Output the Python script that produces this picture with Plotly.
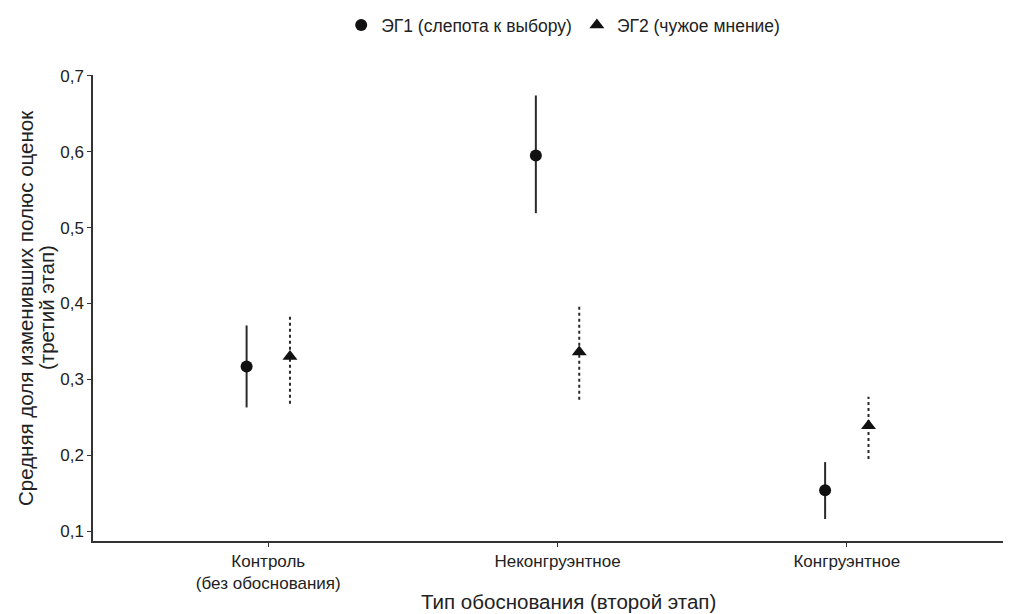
import plotly.graph_objects as go

categories = ["Контроль<br>(без обоснования)", "Неконгруэнтное", "Конгруэнтное"]
series_names = ["ЭГ1 (слепота к выбору)", "ЭГ2 (чужое мнение)"]
eg1_mean = [0.317, 0.595, 0.154]
eg1_low = [0.263, 0.519, 0.116]
eg1_high = [0.371, 0.674, 0.191]
eg2_mean = [0.330, 0.336, 0.239]
eg2_low = [0.268, 0.273, 0.195]
eg2_high = [0.384, 0.399, 0.277]
y_ticks = [0.1, 0.2, 0.3, 0.4, 0.5, 0.6, 0.7]
x_title = "Тип обоснования (второй этап)"
y_title_lines = ["Средняя доля изменивших полюс оценок", "(третий этап)"]

dodge = 0.075
series = [
    (series_names[0], eg1_mean, eg1_low, eg1_high, -dodge, "circle", 12, "solid"),
    (series_names[1], eg2_mean, eg2_low, eg2_high, dodge, "triangle-up", 13, "dot"),
]

fig = go.Figure()
for name, mean, low, high, off, sym, size, dash in series:
    xs = [i + off for i in range(len(categories))]
    for x, lo, hi in zip(xs, low, high):
        fig.add_trace(go.Scatter(x=[x, x], y=[lo, hi], mode="lines",
                                 line=dict(color="#2a2a2a", width=2, dash=dash),
                                 showlegend=False, hoverinfo="skip"))
    fig.add_trace(go.Scatter(x=xs, y=mean, mode="markers", name=name,
                             marker=dict(symbol=sym, size=size, color="#111111")))

annotations = [
    dict(text=x_title, xref="paper", yref="paper", x=0.522, y=0, yshift=-60,
         xanchor="center", yanchor="middle", showarrow=False, font=dict(size=20.5)),
]
for shift, line in zip([-68, -47], y_title_lines):
    annotations.append(dict(text=line, xref="paper", yref="paper", x=0, y=0.5,
                            xshift=shift, xanchor="center", yanchor="middle",
                            textangle=-90, showarrow=False, font=dict(size=20.5)))

fig.update_layout(
    width=1015, height=614,
    paper_bgcolor="white", plot_bgcolor="white",
    margin=dict(l=85, r=20, t=67, b=81, autoexpand=False),
    separators=", ",
    font=dict(family="Liberation Sans, Arial, sans-serif", color="#222222", size=13),
    showlegend=True,
    legend=dict(orientation="h", xref="container", x=0.547, xanchor="center",
                yref="container", y=0.972, yanchor="middle", font=dict(size=17.5)),
    xaxis=dict(range=[-0.606, 2.54], tickmode="array",
               tickvals=list(range(len(categories))), ticktext=categories,
               showline=True, linecolor="#333333", linewidth=1.5,
               ticks="outside", ticklen=4, tickcolor="#333333", showgrid=False,
               zeroline=False, tickfont=dict(size=17), automargin=False),
    yaxis=dict(range=[0.087, 0.701], tickmode="array", tickvals=y_ticks,
               tickformat=".1f", showline=True, linecolor="#333333", linewidth=1.5,
               ticks="outside", ticklen=4, tickcolor="#333333", showgrid=False,
               zeroline=False, tickfont=dict(size=17), automargin=False),
    annotations=annotations,
)

fig.write_html("out.html")
